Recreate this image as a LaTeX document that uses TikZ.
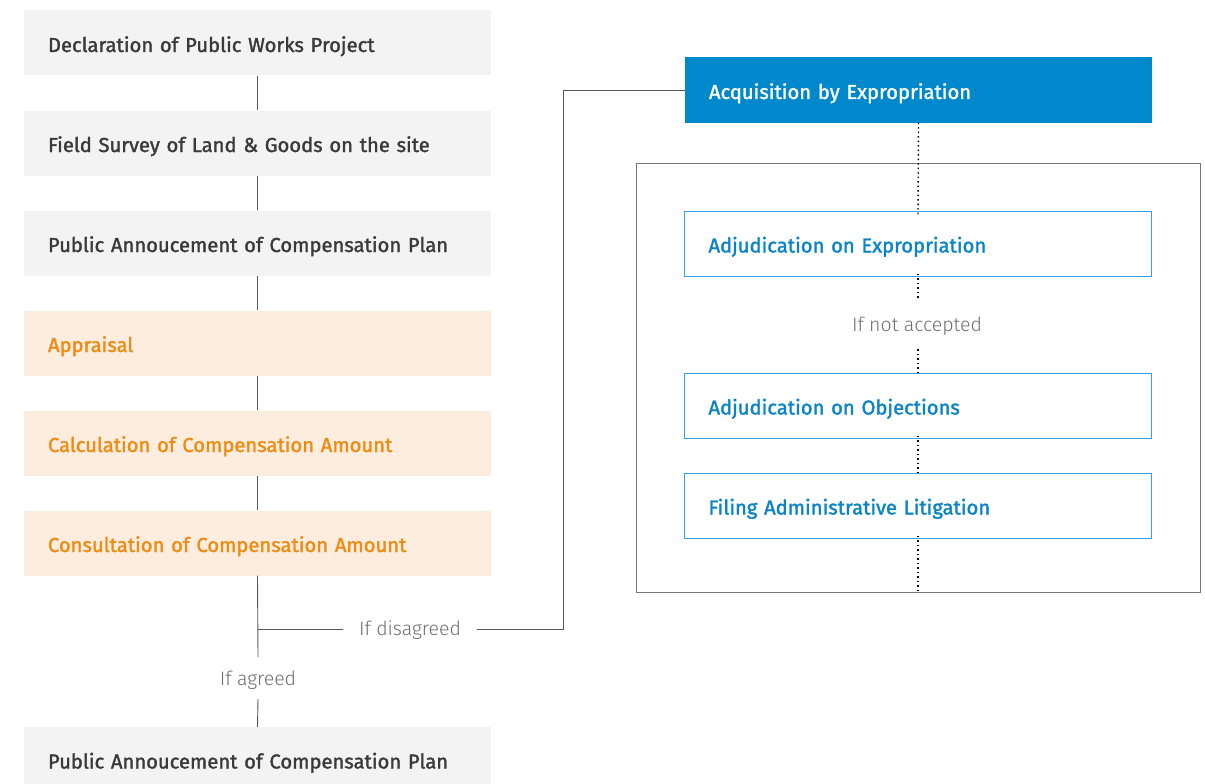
\documentclass[tikz,border=0pt]{standalone}
\usepackage{fontspec}
\setmainfont{Fira Sans}
\newfontfamily\boxfont{Fira Sans}[FakeBold=1.6]
\newfontfamily\lightfont{Fira Sans Light}
\definecolor{boxgray}{HTML}{F3F3F3}
\definecolor{boxorange}{HTML}{FDEDDF}
\definecolor{txtorange}{HTML}{EF8A12}
\definecolor{txtgray}{HTML}{3A3A3A}
\definecolor{lblgray}{HTML}{6E6E6E}
\definecolor{accblue}{HTML}{0088CC}
\definecolor{lineblue}{HTML}{33A3DD}
\definecolor{txtblue}{HTML}{0A84C6}
\definecolor{linegray}{HTML}{555555}
\tikzset{
  stepbase/.style={rectangle, minimum width=467pt, minimum height=65pt, inner xsep=24pt, inner ysep=0pt, text width=419pt, text height=20pt, text depth=2pt, align=left, font=\boxfont\fontsize{20.2}{22}\selectfont},
  graybox/.style={stepbase, fill=boxgray, text=txtgray},
  orangebox/.style={stepbase, fill=boxorange, text=txtorange},
  bluebox/.style={stepbase, fill=accblue, text=white},
  outlinebox/.style={stepbase, draw=lineblue, line width=1pt, fill=white, text=txtblue},
  lbl/.style={font=\lightfont\fontsize{19.5}{22}\selectfont, text=lblgray, inner sep=0pt},
  conn/.style={draw=linegray, line width=0.9pt},
  dots/.style={draw=black, line width=1.4pt, dash pattern=on 1.5pt off 3pt},
}
\begin{document}
\begin{tikzpicture}[x=1pt,y=-1pt]
\useasboundingbox (0,0) rectangle (1205,784);
% left column
\node[graybox] (b1) at (257.5,43) {Declaration of Public Works Project};
\node[graybox] (b2) at (257.5,143) {Field Survey of Land \& Goods on the site};
\node[graybox] (b3) at (257.5,243) {Public Annoucement of Compensation Plan};
\node[orangebox] (b4) at (257.5,343) {Appraisal};
\node[orangebox] (b5) at (257.5,443) {Calculation of Compensation Amount};
\node[orangebox] (b6) at (257.5,543) {Consultation of Compensation Amount};
\node[graybox] (b7) at (257.5,759.5) {Public Annoucement of Compensation Plan};
\draw[conn] (b1.south) -- (b2.north);
\draw[conn] (b2.south) -- (b3.north);
\draw[conn] (b3.south) -- (b4.north);
\draw[conn] (b4.south) -- (b5.north);
\draw[conn] (b5.south) -- (b6.north);
% branches
\node[lbl] (agreed) at (258,680) {If agreed};
\node[lbl] (disagreed) at (410,630) {If disagreed};
\coordinate (split) at (258,629);
\coordinate (ub) at (258,657);
\coordinate (lb) at (258,699);
\draw[conn] (b6.south) -- (ub);
\draw[conn] (lb) -- (b7.north);
\draw[conn] (split) -- (343,629);
% right side
\node[bluebox] (acq) at (918.5,90) {Acquisition by Expropriation};
\draw[conn] (477,629) -- (563,629) |- (acq.west);
\draw[draw=linegray!80, line width=1pt] (636,163) rectangle (1200,592);
\node[outlinebox, minimum width=466pt, minimum height=65pt] (r1) at (918,243.5) {Adjudication on Expropriation};
\node[outlinebox, minimum width=466pt, minimum height=65pt] (r2) at (918,405.5) {Adjudication on Objections};
\node[outlinebox, minimum width=466pt, minimum height=65pt] (r3) at (918,505.5) {Filing Administrative Litigation};
\node[lbl] (notacc) at (917,326) {If not accepted};
\coordinate (boxbot) at (918,592);
\draw[dots] (acq.south) -- ([yshift=-4pt]r1.north);
\draw[dots] ([yshift=3pt]r1.south) -- (918,300);
\draw[dots] (918,349) -- ([yshift=-3pt]r2.north);
\draw[dots] ([yshift=3pt]r2.south) -- ([yshift=-3pt]r3.north);
\draw[dots] ([yshift=3pt]r3.south) -- (boxbot);
\end{tikzpicture}
\end{document}
